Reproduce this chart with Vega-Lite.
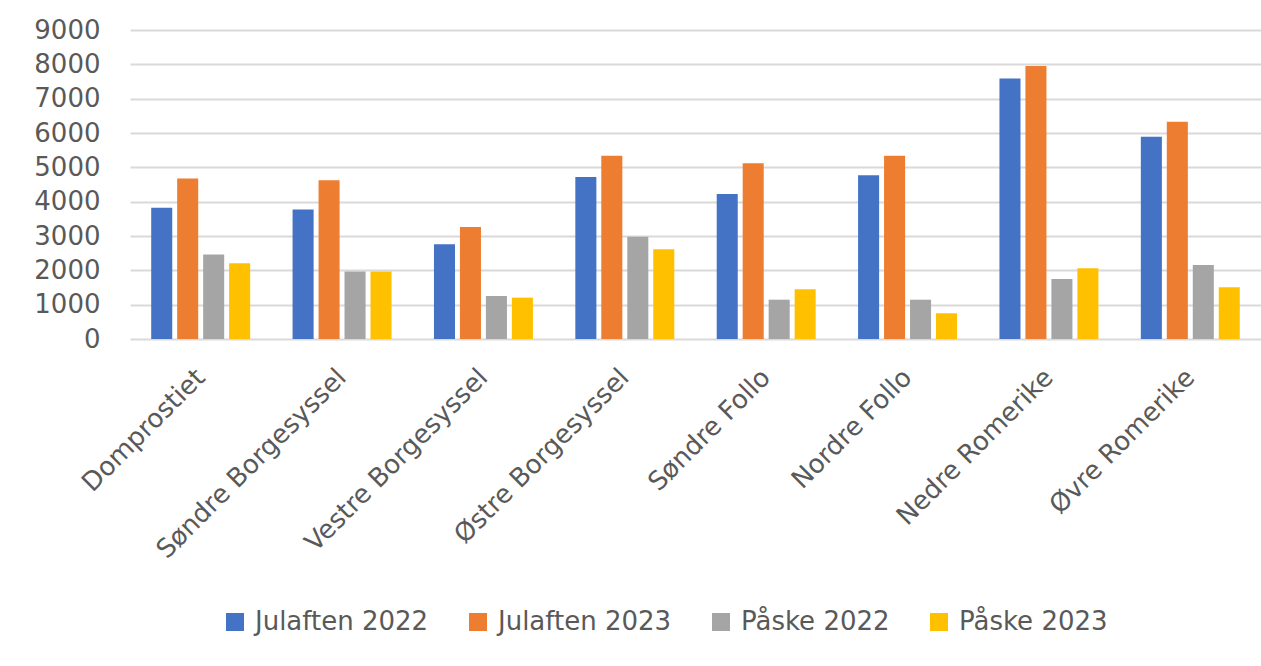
{
  "$schema": "https://vega.github.io/schema/vega-lite/v6.json",
  "autosize": {"type": "none"},
  "padding": {"left": 130, "top": 30, "right": 0, "bottom": 327},
  "width": 1131,
  "height": 309,
  "background": "white",
  "config": {
    "view": {"stroke": null},
    "font": "DejaVu Sans",
    "axis": {"labelFont": "DejaVu Sans", "labelColor": "#595959", "gridColor": "#d9d9d9", "gridWidth": 2, "domain": false, "ticks": false},
    "legend": {"labelFont": "DejaVu Sans"}
  },
  "data": {
    "values": [
      {"prosti": "Domprostiet", "serie": "Julaften 2022", "antall": 3820},
      {"prosti": "Domprostiet", "serie": "Julaften 2023", "antall": 4675},
      {"prosti": "Domprostiet", "serie": "Påske 2022", "antall": 2460},
      {"prosti": "Domprostiet", "serie": "Påske 2023", "antall": 2205},
      {"prosti": "Søndre Borgesyssel", "serie": "Julaften 2022", "antall": 3770},
      {"prosti": "Søndre Borgesyssel", "serie": "Julaften 2023", "antall": 4625},
      {"prosti": "Søndre Borgesyssel", "serie": "Påske 2022", "antall": 1965},
      {"prosti": "Søndre Borgesyssel", "serie": "Påske 2023", "antall": 1965},
      {"prosti": "Vestre Borgesyssel", "serie": "Julaften 2022", "antall": 2760},
      {"prosti": "Vestre Borgesyssel", "serie": "Julaften 2023", "antall": 3265},
      {"prosti": "Vestre Borgesyssel", "serie": "Påske 2022", "antall": 1255},
      {"prosti": "Vestre Borgesyssel", "serie": "Påske 2023", "antall": 1205},
      {"prosti": "Østre Borgesyssel", "serie": "Julaften 2022", "antall": 4715},
      {"prosti": "Østre Borgesyssel", "serie": "Julaften 2023", "antall": 5335},
      {"prosti": "Østre Borgesyssel", "serie": "Påske 2022", "antall": 2975},
      {"prosti": "Østre Borgesyssel", "serie": "Påske 2023", "antall": 2615},
      {"prosti": "Søndre Follo", "serie": "Julaften 2022", "antall": 4220},
      {"prosti": "Søndre Follo", "serie": "Julaften 2023", "antall": 5120},
      {"prosti": "Søndre Follo", "serie": "Påske 2022", "antall": 1145},
      {"prosti": "Søndre Follo", "serie": "Påske 2023", "antall": 1450},
      {"prosti": "Nordre Follo", "serie": "Julaften 2022", "antall": 4770},
      {"prosti": "Nordre Follo", "serie": "Julaften 2023", "antall": 5335},
      {"prosti": "Nordre Follo", "serie": "Påske 2022", "antall": 1145},
      {"prosti": "Nordre Follo", "serie": "Påske 2023", "antall": 750},
      {"prosti": "Nedre Romerike", "serie": "Julaften 2022", "antall": 7590},
      {"prosti": "Nedre Romerike", "serie": "Julaften 2023", "antall": 7950},
      {"prosti": "Nedre Romerike", "serie": "Påske 2022", "antall": 1750},
      {"prosti": "Nedre Romerike", "serie": "Påske 2023", "antall": 2060},
      {"prosti": "Øvre Romerike", "serie": "Julaften 2022", "antall": 5890},
      {"prosti": "Øvre Romerike", "serie": "Julaften 2023", "antall": 6325},
      {"prosti": "Øvre Romerike", "serie": "Påske 2022", "antall": 2155},
      {"prosti": "Øvre Romerike", "serie": "Påske 2023", "antall": 1505}
    ]
  },
  "mark": {"type": "bar"},
  "encoding": {
    "x": {
      "field": "prosti",
      "type": "nominal",
      "sort": null,
      "title": null,
      "scale": {"paddingInner": 0.3, "paddingOuter": 0.15},
      "axis": {"labelAngle": -45, "labelAlign": "right", "labelBaseline": "middle", "labelFontSize": 26, "labelPadding": 34, "grid": false, "labelLimit": 400}
    },
    "xOffset": {
      "field": "serie",
      "type": "nominal",
      "sort": null,
      "scale": {"paddingInner": 0.19, "paddingOuter": 0}
    },
    "y": {
      "field": "antall",
      "type": "quantitative",
      "title": null,
      "scale": {"domain": [0, 9000], "nice": false},
      "axis": {"values": [0, 1000, 2000, 3000, 4000, 5000, 6000, 7000, 8000, 9000], "labelFontSize": 26, "labelPadding": 30, "format": "d"}
    },
    "color": {
      "field": "serie",
      "type": "nominal",
      "sort": null,
      "title": null,
      "scale": {
        "domain": ["Julaften 2022", "Julaften 2023", "Påske 2022", "Påske 2023"],
        "range": ["#4472C4", "#ED7D31", "#A5A5A5", "#FFC000"]
      },
      "legend": {
        "orient": "none",
        "direction": "horizontal",
        "legendX": 92,
        "legendY": 579,
        "padding": 0,
        "symbolType": "square",
        "symbolSize": 324,
        "symbolStrokeWidth": 0,
        "symbolOpacity": 1,
        "labelFontSize": 26,
        "labelColor": "#595959",
        "labelOffset": 7,
        "columnPadding": 36,
        "labelLimit": 400
      }
    }
  }
}
